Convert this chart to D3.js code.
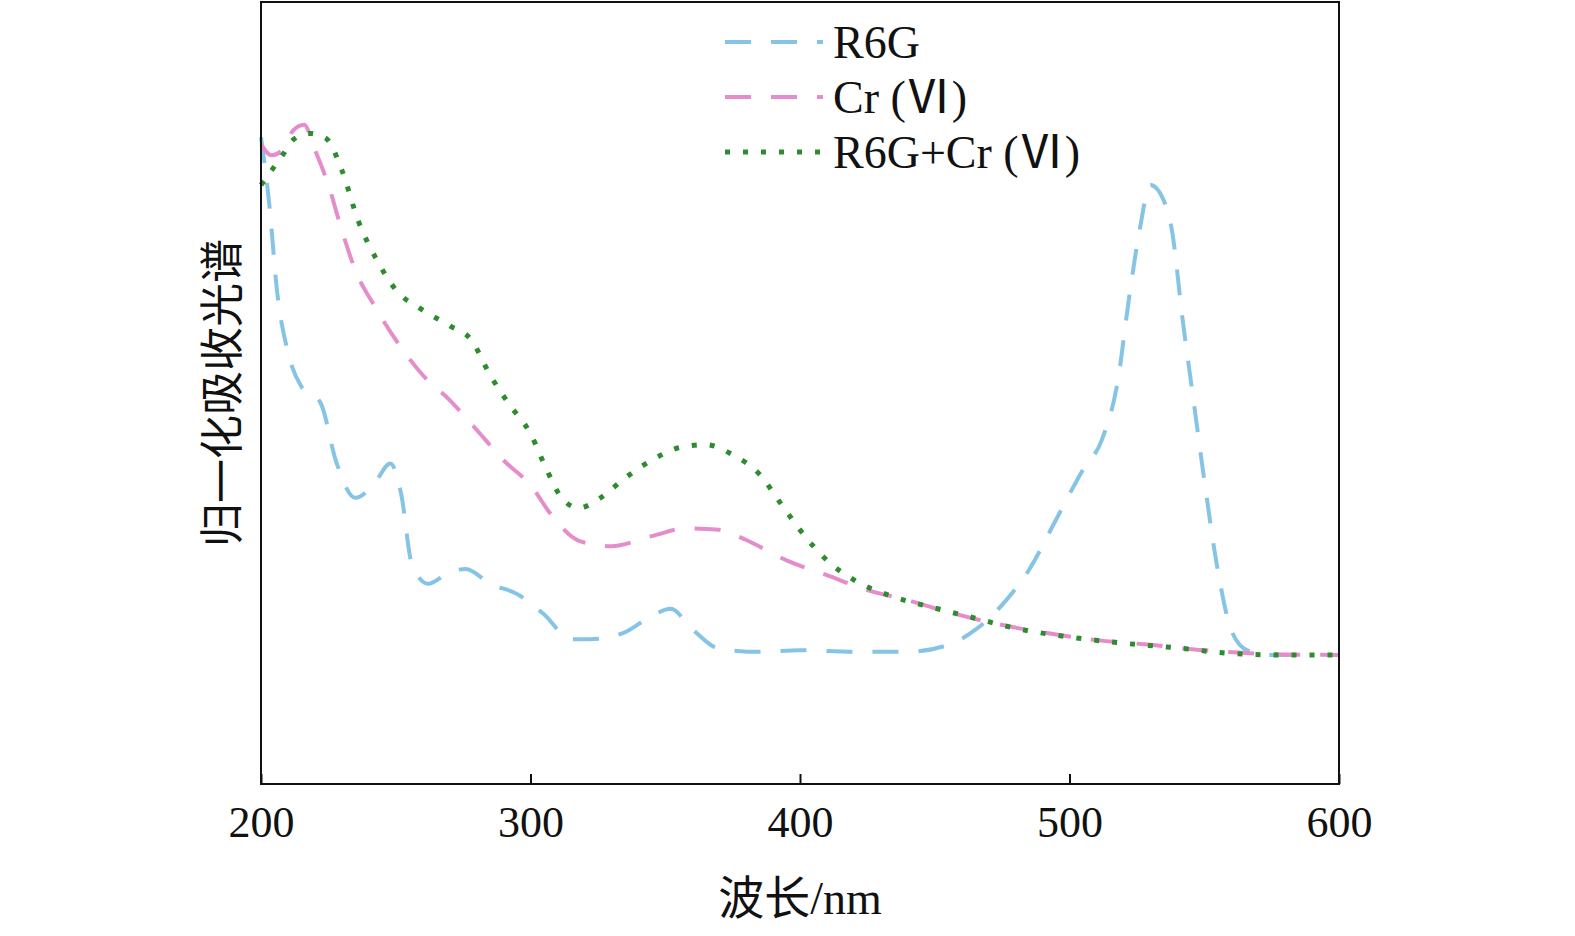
<!doctype html>
<html>
<head>
  <meta charset="utf8">
  <style>
    body { margin: 0; padding: 0; background: #fff; }
    text { font-family: "Liberation Serif", "Noto Sans CJK SC", serif; fill: #111; }
  </style>
</head>
<body>
  <svg id="chart"></svg>
  <script src="https://d3js.org/d3.v7.min.js"></script>
  <script>
    // wavelength (nm) and normalized absorbance
    const r6gX = [200,203,206,210,215,222,228,235,242,248,252,256,262,270,276,285,295,305,315,322,335,345,352,360,370,385,400,420,440,455,465,475,485,495,505,512,518,522,526,530,535,538,542,546,550,555,560,566,575,590]
    const r6gY = [0.827,0.744,0.629,0.552,0.508,0.488,0.411,0.366,0.384,0.410,0.371,0.281,0.256,0.271,0.275,0.256,0.243,0.217,0.185,0.185,0.194,0.215,0.224,0.198,0.173,0.169,0.171,0.169,0.169,0.178,0.197,0.229,0.274,0.338,0.402,0.440,0.517,0.619,0.708,0.766,0.746,0.708,0.593,0.491,0.389,0.274,0.197,0.171,0.165,0.165]
    const crX = [200,204,208,212,216,220,225,230,235,242,250,260,270,280,290,300,308,318,330,345,358,370,380,395,410,425,440,455,470,490,510,530,550,575,600]
    const crY = [0.818,0.804,0.811,0.836,0.843,0.811,0.766,0.708,0.657,0.612,0.568,0.523,0.491,0.453,0.414,0.382,0.343,0.311,0.304,0.317,0.327,0.325,0.312,0.286,0.267,0.248,0.235,0.220,0.207,0.194,0.184,0.178,0.171,0.166,0.165]
    const mixX = [200,204,208,212,218,224,230,236,243,250,260,270,278,285,292,300,306,312,318,326,335,345,355,365,375,385,393,400,410,420,435,450,465,480,500,520,540,560,580,600]
    const mixY = [0.766,0.785,0.804,0.824,0.832,0.826,0.785,0.721,0.670,0.632,0.606,0.586,0.568,0.523,0.486,0.448,0.402,0.364,0.353,0.366,0.391,0.414,0.430,0.434,0.421,0.396,0.358,0.325,0.286,0.261,0.239,0.225,0.212,0.199,0.188,0.180,0.174,0.167,0.165,0.165]
    const xTicks = [200, 300, 400, 500, 600]
    const series = [
      { name: 'R6G', xs: r6gX, ys: r6gY, color: '#86c4e6', dash: '26,20', width: 4 },
      { name: 'Cr (Ⅵ)', xs: crX, ys: crY, color: '#e58ccb', dash: '26,20', width: 4 },
      { name: 'R6G+Cr (Ⅵ)', xs: mixX, ys: mixY, color: '#2e8b2e', dash: '5,13', width: 5 }
    ]

    const width = 1575, height = 936
    const plotLeft = 261, plotRight = 1339, plotTop = 2, plotBottom = 784

    const svg = d3.select('#chart').attr('width', width).attr('height', height)
    const x = d3.scaleLinear().domain([200, 600]).range([plotLeft, plotRight])
    const y = d3.scaleLinear().domain([0, 1]).range([plotBottom, plotTop])

    const line = d3.line().x(d => x(d[0])).y(d => y(d[1])).curve(d3.curveMonotoneX)

    series.forEach(s => {
      svg.append('path')
        .attr('d', line(d3.zip(s.xs, s.ys)))
        .attr('fill', 'none')
        .attr('stroke', s.color)
        .attr('stroke-width', s.width)
        .attr('stroke-dasharray', s.dash)
    })

    svg.append('rect')
      .attr('x', plotLeft).attr('y', plotTop)
      .attr('width', plotRight - plotLeft).attr('height', plotBottom - plotTop)
      .attr('fill', 'none').attr('stroke', '#111').attr('stroke-width', 2)

    const axis = svg.append('g').attr('transform', `translate(0,${plotBottom})`)
      .call(d3.axisBottom(x).tickValues(xTicks).tickSize(-10).tickPadding(22))
    axis.select('.domain').remove()
    axis.selectAll('line').attr('stroke', '#111').attr('stroke-width', 2)
    axis.selectAll('text').style('font-size', '44px').attr('fill', '#111')

    svg.append('text').attr('x', 800).attr('y', 914).attr('text-anchor', 'middle')
      .style('font-size', '46px').text('波长/nm')
    svg.append('text').attr('transform', 'translate(238,393) rotate(-90)').attr('text-anchor', 'middle')
      .style('font-size', '44px').text('归一化吸收光谱')

    series.forEach((s, i) => {
      const ly = 42 + i * 55
      svg.append('line').attr('x1', 725).attr('x2', 823).attr('y1', ly).attr('y2', ly)
        .attr('stroke', s.color).attr('stroke-width', s.width).attr('stroke-dasharray', s.dash)
      svg.append('text').attr('x', 833).attr('y', ly + 16).style('font-size', '46px').text(s.name)
    })
  </script>
</body>
</html>
